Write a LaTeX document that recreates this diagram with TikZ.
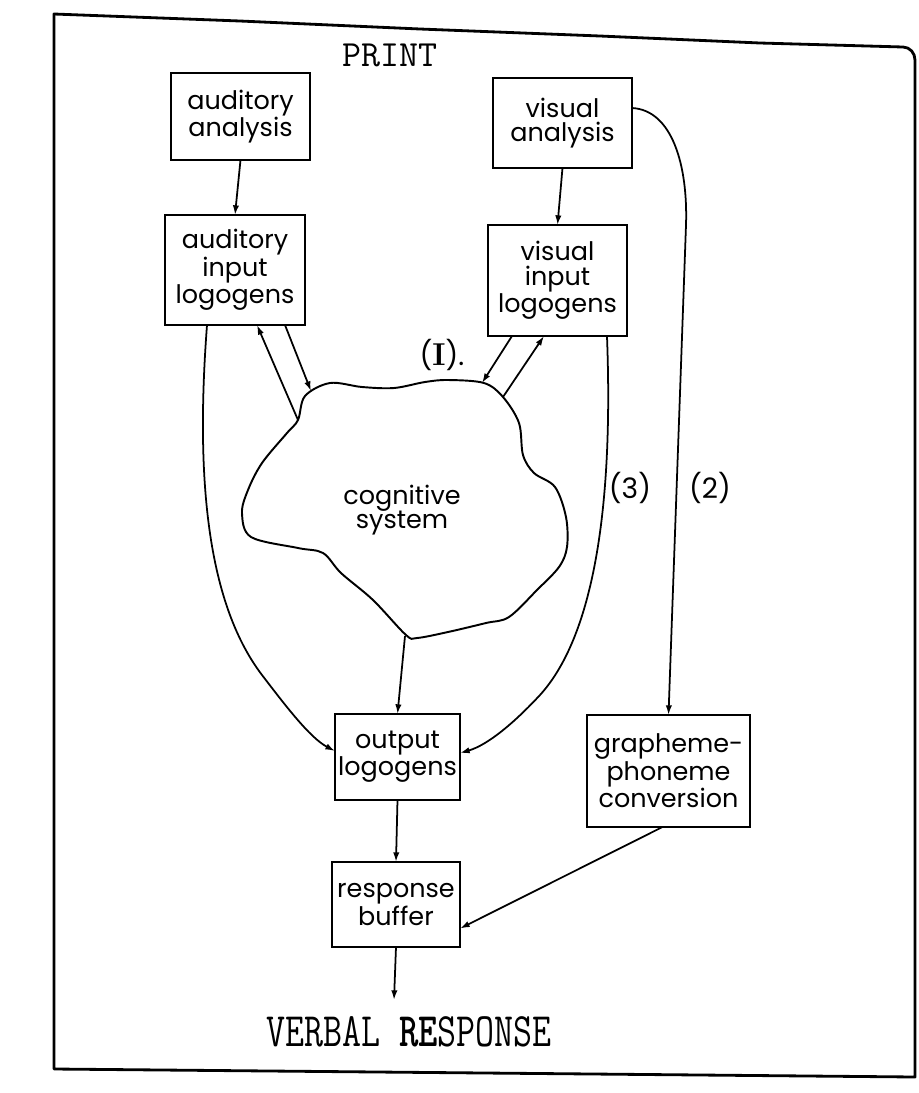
\documentclass[tikz,border=0pt]{standalone}
\usepackage{fontspec}
\usetikzlibrary{arrows.meta,calc}
\newfontfamily\lbl{Poppins}

\begin{document}
\begin{tikzpicture}[x=0.02cm,y=-0.02cm,
  box/.style={draw, line width=1.2pt, inner sep=0pt, outer sep=0pt, align=center,
    font={\lbl\fontsize{14.5pt}{14pt}\selectfont}},
  link/.style={line width=1pt},
  arr/.style={link, -{Latex[length=5.5pt,width=3.6pt]}},
  tag/.style={font={\lbl\fontsize{16pt}{16pt}\selectfont}, inner sep=0pt},
  typed/.style={font={\ttfamily\fontsize{21pt}{21pt}\selectfont}, inner sep=0pt}]
\useasboundingbox (0,0) rectangle (919,1093);

% outer frame
\draw[line width=1.6pt, line join=round]
  (54,14) -- (240,21) -- (420,29) -- (600,36) -- (760,43) -- (903,47)
  to[out=0,in=90] (915,60) -- (915,1077) -- (54,1069) -- cycle;

% heading
\node[typed] (print) at (390,55) {PRINT};

% boxes
\node[box, minimum width=2.78cm, minimum height=1.74cm] (audan) at (240.5,116.5) {auditory\\analysis};
\node[box, minimum width=2.80cm, minimum height=2.20cm] (audin) at (235,270) {auditory\\input\\logogens};
\node[box, minimum width=2.78cm, minimum height=1.80cm] (visan) at (562.5,123) {visual\\analysis};
\node[box, minimum width=2.78cm, minimum height=2.22cm] (visin) at (557.5,280.5) {visual\\input\\logogens};
\node[box, minimum width=2.50cm, minimum height=1.72cm] (outlog) at (397.5,757) {output\\logogens};
\node[box, minimum width=2.56cm, minimum height=1.70cm] (respbuf) at (396,904.5) {response\\buffer};
\node[box, minimum width=3.26cm, minimum height=2.24cm] (graph) at (668.5,771) {grapheme-\\phoneme\\conversion};

% cognitive system cloud
\draw[line width=1.1pt] plot[smooth cycle, tension=0.55] coordinates {
  (305,396) (330,383) (362,387) (394,388) (425,382) (448,380) (484,383)
  (503,397) (519,423) (523,455) (534,473) (555,487) (566,517) (567,547)
  (559,567) (537,590) (509,617) (486,623) (448,632) (417,638) (406,635)
  (373,600) (341,573) (323,553) (298,548) (251,537) (242,513) (248,490)
  (262,463) (287,433) (298,420)};
\node[font={\lbl\fontsize{14.5pt}{14pt}\selectfont}, align=center, inner sep=0pt] (cog) at (402,510) {cognitive\\system};
\coordinate (cA) at (298,420);
\coordinate (cB) at (311,391);
\coordinate (cC) at (482,383);
\coordinate (cD) at (503,397);
\coordinate (cBot) at (405,636);
\coordinate (vr) at (394,1000);

% route labels
\node[tag] (l1) at (442,355) {({\rmfamily\bfseries\fontsize{18pt}{18pt}\selectfont I}).};
\node[tag] (l3) at (630,488) {(3)};
\node[tag] (l2) at (710,488) {(2)};

% straight links
\draw[arr] (audan.south) -- (audin.north);
\draw[arr] (visan.south) -- (visin.north);
\draw[arr] (cA) -- ($(audin.south)+(22,0)$);
\draw[arr] ($(audin.south)+(50,0)$) -- (cB);
\draw[arr] ($(visin.south west)+(24,0)$) -- (cC);
\draw[arr] (cD) -- ($(visin.south west)+(56,0)$);
\draw[arr] (cBot) -- (outlog.north);
\draw[arr] (outlog.south) -- (respbuf.north);
\draw[arr] (respbuf.south) -- (vr);
\draw[arr] ($(graph.south)+(-6,0)$) -- ($(respbuf.east)+(0,24)$);

% curved routes
\draw[arr] ($(audin.south west)+(42,0)$) .. controls (196,470) and (205,600) .. (262,675)
  .. controls (285,705) and (310,738) .. ($(outlog.west)+(0,-6)$);
\draw[arr] ($(visin.south east)+(-20,0)$) .. controls (614,520) and (590,640) .. (540,695)
  .. controls (515,722) and (488,745) .. ($(outlog.east)+(0,-4)$);
\draw[arr] ($(visan.north east)+(0,30)$) .. controls (672,110) and (688,165) .. (686,225)
  -- (graph.north);

% final output
\node[typed, yscale=1.3] (verbal) at (409,1032) {VERBAL {\bfseries RE}SPONSE};
\end{tikzpicture}
\end{document}
